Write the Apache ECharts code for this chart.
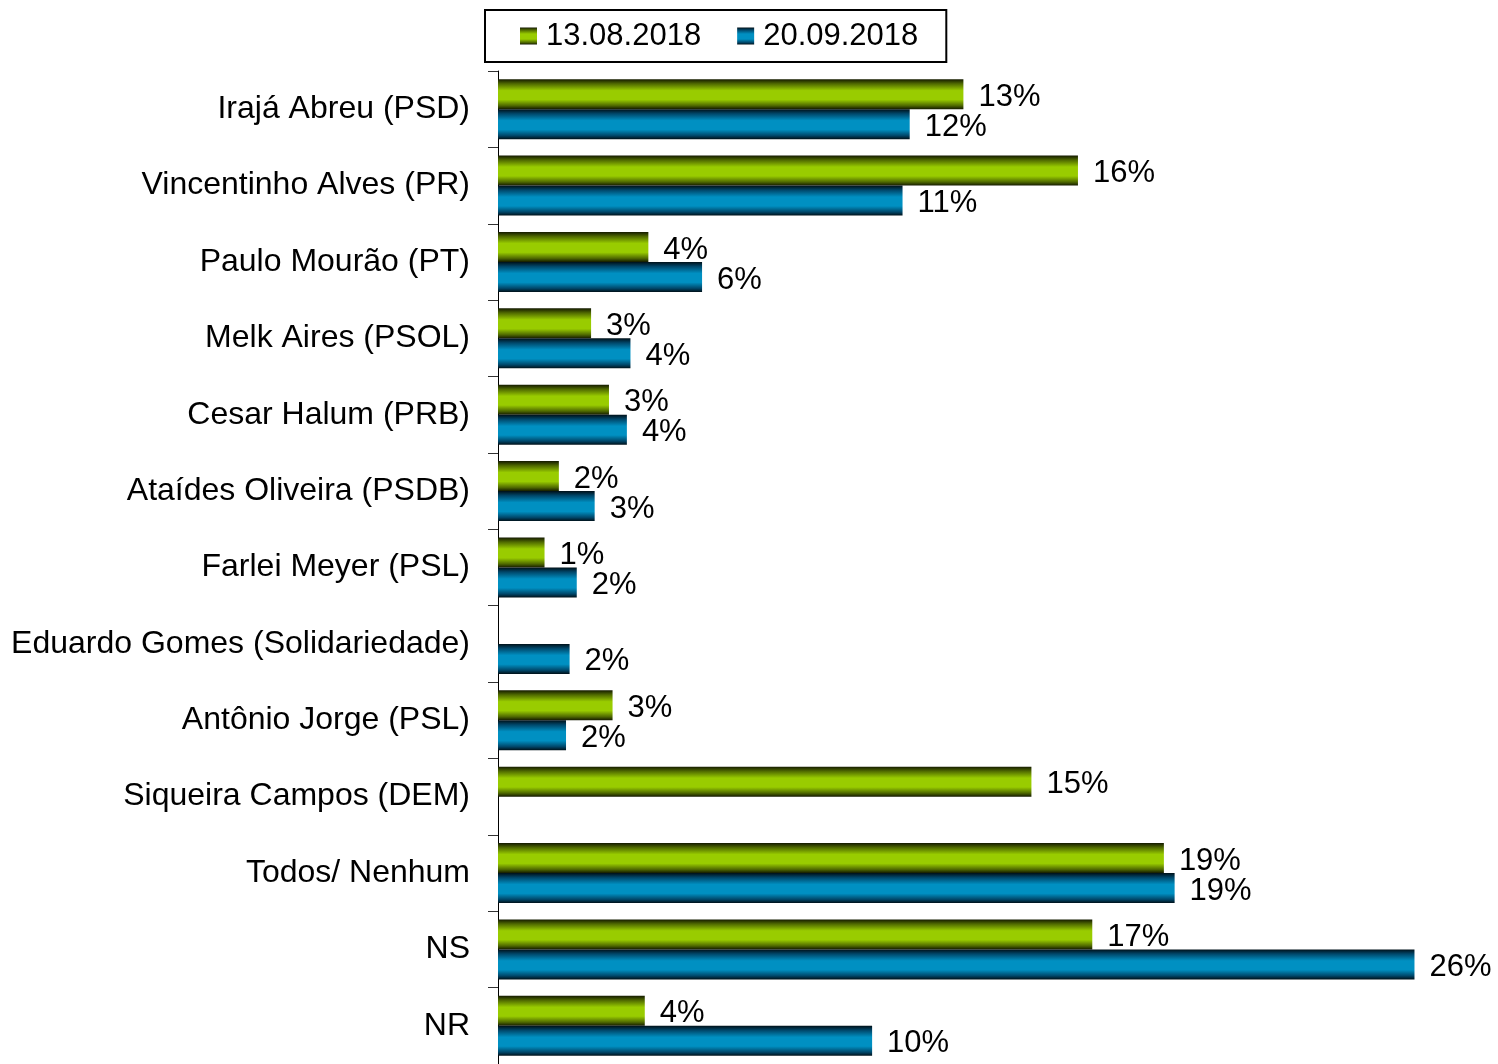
<!DOCTYPE html>
<html>
<head>
<meta charset="utf-8">
<script src="https://cdn.jsdelivr.net/npm/echarts@6/dist/echarts.min.js"></script>
<style>html,body{margin:0;padding:0;background:#fff}#c{width:1498px;height:1064px}</style>
</head>
<body>
<div id="c"></div>
<script>
const categories = ['Irajá Abreu (PSD)','Vincentinho Alves (PR)','Paulo Mourão (PT)','Melk Aires (PSOL)','Cesar Halum (PRB)','Ataídes Oliveira (PSDB)','Farlei Meyer (PSL)','Eduardo Gomes (Solidariedade)','Antônio Jorge (PSL)','Siqueira Campos (DEM)','Todos/ Nenhum','NS','NR'];
const seriesNames = ['13.08.2018','20.09.2018'];
const aug = [13.0, 16.2, 4.2, 2.6, 3.1, 1.7, 1.3, null, 3.2, 14.9, 18.6, 16.6, 4.1];
const sep = [11.5, 11.3, 5.7, 3.7, 3.6, 2.7, 2.2, 2.0, 1.9, null, 18.9, 25.6, 10.45];

function grad(dark, mid, bright){
  return new echarts.graphic.LinearGradient(0,0,0,1,[
    {offset:0,color:dark},{offset:0.15,color:mid},{offset:0.38,color:bright},
    {offset:0.68,color:bright},{offset:0.88,color:mid},{offset:1,color:dark}]);
}
const green = grad('#141a00','#4f6900','#99cc00');
const blue = grad('#001018','#00476a','#0090c2');

const chart = echarts.init(document.getElementById('c'));
const labelCfg = {
  show:true, position:'right', distance:15, color:'#000', offset:[0,3],
  fontFamily:'Liberation Sans, Arial, sans-serif', fontSize:31,
  formatter: p => (p.value == null ? '' : Math.round(p.value) + '%')
};
chart.setOption({
  animation:false,
  legend:{
    left:485, top:10, padding:[8,28,8,35], itemGap:36, itemWidth:17, itemHeight:17, icon:'rect',
    borderColor:'#000', borderWidth:2,
    textStyle:{fontFamily:'Liberation Sans, Arial, sans-serif', fontSize:31, color:'#000', padding:[0,0,0,4], lineHeight:36},
    data:seriesNames
  },
  grid:{left:498, top:71, width:966.6, height:997},
  xAxis:{type:'value', min:0, max:27, show:false},
  yAxis:{
    type:'category', data:categories, inverse:true,
    axisLine:{show:true, lineStyle:{color:'#000', width:1}},
    axisTick:{show:true, length:10, lineStyle:{color:'#333', width:1}},
    axisLabel:{margin:28, color:'#000', fontFamily:'Liberation Sans, Arial, sans-serif', fontSize:32, padding:[6,0,0,0]}
  },
  series:[
    {name:seriesNames[0], type:'bar', data:aug, barWidth:30, barGap:'0%', itemStyle:{color:green}, label:labelCfg},
    {name:seriesNames[1], type:'bar', data:sep, barWidth:30, barGap:'0%', itemStyle:{color:blue}, label:labelCfg}
  ]
});
</script>
</body>
</html>
